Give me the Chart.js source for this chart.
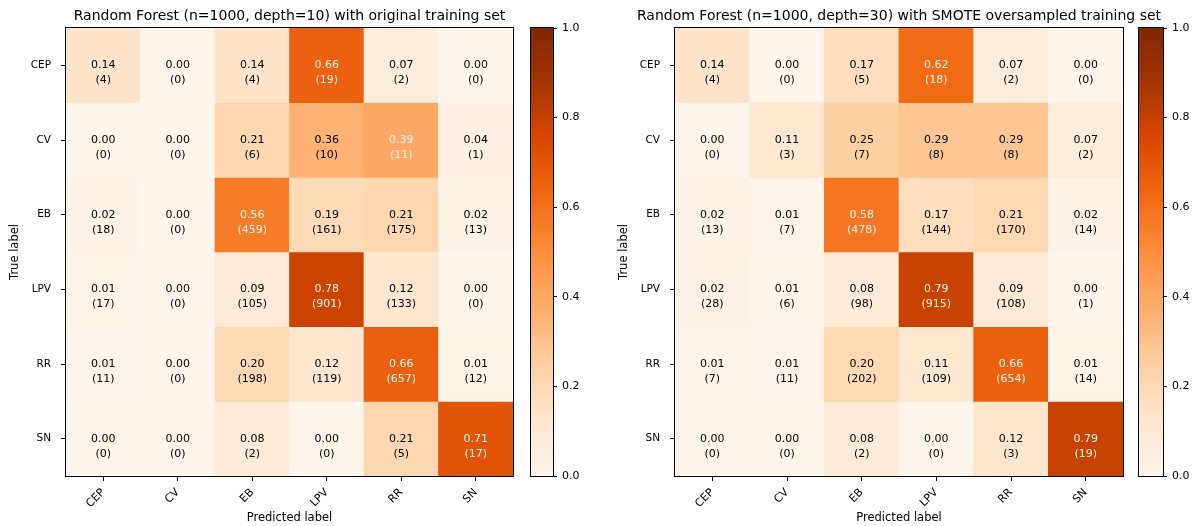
<!DOCTYPE html>
<html>
<head>
<meta charset="utf-8">
<title>Random Forest confusion matrices</title>
<script src="https://cdn.jsdelivr.net/npm/chart.js@4.4.1/dist/chart.umd.min.js"></script>
<style>
  html, body { margin: 0; padding: 0; background: #ffffff; }
  #figure { position: relative; width: 1195px; height: 526px; overflow: hidden; background: #ffffff; }
  #figure canvas { position: absolute; top: 0; }
</style>
</head>
<body>
<div id="figure">
  <canvas id="cmOriginal" width="579" height="526" style="left:0px"></canvas>
  <canvas id="cbOriginal" width="80" height="526" style="left:520px"></canvas>
  <canvas id="cmSmote" width="598" height="526" style="left:600px"></canvas>
  <canvas id="cbSmote" width="67" height="526" style="left:1128px"></canvas>
</div>
<script>
// ---- data -------------------------------------------------------------
const classNames = ['CEP', 'CV', 'EB', 'LPV', 'RR', 'SN'];

// rows = true label, columns = predicted label (sample counts)
const countsOriginal = [
  [4, 0, 4, 19, 2, 0],
  [0, 0, 6, 10, 11, 1],
  [18, 0, 459, 161, 175, 13],
  [17, 0, 105, 901, 133, 0],
  [11, 0, 198, 119, 657, 12],
  [0, 0, 2, 0, 5, 17]
];
const countsSmote = [
  [4, 0, 5, 18, 2, 0],
  [0, 3, 7, 8, 8, 2],
  [13, 7, 478, 144, 170, 14],
  [28, 6, 98, 915, 108, 1],
  [7, 11, 202, 109, 654, 14],
  [0, 0, 2, 0, 3, 19]
];

const titleOriginal = 'Random Forest (n=1000, depth=10) with original training set';
const titleSmote = 'Random Forest (n=1000, depth=30) with SMOTE oversampled training set';
const xAxisTitle = 'Predicted label';
const yAxisTitle = 'True label';
const colorbarTicks = [0.0, 0.2, 0.4, 0.6, 0.8, 1.0];

// ---- styling helpers ----------------------------------------------------
const FONT = '"DejaVu Sans", "Liberation Sans", sans-serif';
// "Oranges" sequential palette control points
const ORANGES = [
  [254, 245, 235], [254, 230, 206], [253, 208, 162], [253, 174, 107], [253, 141, 60],
  [241, 105, 19], [217, 72, 1], [166, 54, 3], [127, 39, 4]
];
const rgb = c => `rgb(${c[0]},${c[1]},${c[2]})`;

function orangesAt(v) {
  const idx = Math.min(255, Math.max(0, Math.floor(v * 256)));
  const s = (idx / 255) * (ORANGES.length - 1);
  const i = Math.min(ORANGES.length - 2, Math.floor(s));
  const f = s - i;
  const a = ORANGES[i], b = ORANGES[i + 1];
  return rgb([0, 1, 2].map(k => Math.round(a[k] + (b[k] - a[k]) * f)));
}

// two decimals, ties rounded to even
function fmt2(v) {
  const x = v * 100;
  const fl = Math.floor(x);
  let r = Math.abs(x - fl - 0.5) < 1e-9 ? (fl % 2 === 0 ? fl : fl + 1) : Math.round(x);
  return (r / 100).toFixed(2);
}

// ---- plugins ------------------------------------------------------------
const frame = {
  id: 'frame',
  afterDraw(chart) {
    const a = chart.chartArea, ctx = chart.ctx;
    ctx.save();
    ctx.strokeStyle = '#000000';
    ctx.lineWidth = 1;
    const l = Math.round(a.left) - 0.5, t = Math.round(a.top) - 0.5;
    const r = Math.round(a.right) + 0.5, b = Math.round(a.bottom) + 0.5;
    ctx.strokeRect(l, t, r - l, b - t);
    ctx.restore();
  }
};

const cellText = {
  id: 'cellText',
  afterDatasetsDraw(chart) {
    const ctx = chart.ctx;
    ctx.save();
    ctx.font = '11px ' + FONT;
    ctx.textAlign = 'center';
    ctx.textBaseline = 'middle';
    chart.data.datasets.forEach((ds, r) => {
      chart.getDatasetMeta(r).data.forEach((bar, c) => {
        const cy = (bar.y + bar.base) / 2;
        ctx.fillStyle = ds.textColors[c];
        ctx.fillText(ds.rateLabels[c], bar.x, cy);
        ctx.fillText('(' + ds.counts[c] + ')', bar.x, cy + 15);
      });
    });
    ctx.restore();
  }
};

// ---- chart builders -----------------------------------------------------
function confusionChart(canvasId, counts, title, sideWidth, yTitlePad) {
  const rates = counts.map(row => {
    const total = row.reduce((s, v) => s + v, 0);
    return row.map(v => v / total);
  });
  const flat = rates.flat();
  const thresh = (Math.max(...flat) + Math.min(...flat)) / 2;

  const datasets = rates.map((row, r) => ({
    label: classNames[r],
    data: row.map(() => [r, r + 1]),
    backgroundColor: row.map(v => orangesAt(v)),
    borderWidth: 0,
    counts: counts[r],
    rateLabels: row.map(fmt2),
    textColors: row.map(v => (v < thresh ? '#000000' : rgb(ORANGES[0])))
  }));

  return new Chart(document.getElementById(canvasId), {
    type: 'bar',
    data: { labels: classNames, datasets },
    plugins: [cellText, frame],
    options: {
      responsive: false,
      animation: false,
      events: [],
      devicePixelRatio: 1,
      layout: { padding: 0 },
      datasets: { bar: { barPercentage: 1, categoryPercentage: 1, grouped: false } },
      plugins: {
        legend: { display: false },
        tooltip: { enabled: false },
        title: {
          display: true,
          text: title,
          color: '#000000',
          font: { family: FONT, size: 14, lineHeight: 1.2, weight: 'normal' },
          padding: { top: 7.6, bottom: 3.6 }
        }
      },
      scales: {
        x: {
          type: 'category',
          offset: true,
          afterFit: s => { s.height = 50; },
          border: { display: false },
          grid: { offset: false, drawOnChartArea: false, drawTicks: true, tickLength: 5, color: '#000000' },
          ticks: {
            color: '#000000', font: { family: FONT, size: 11 },
            minRotation: 45, maxRotation: 45, padding: 5, autoSkip: false
          },
          title: {
            display: true, text: xAxisTitle, color: '#000000',
            font: { family: FONT, size: 11.5, lineHeight: 1.2 },
            padding: { top: 0, bottom: 1.2 }
          }
        },
        y: {
          type: 'linear',
          min: 0,
          max: classNames.length,
          reverse: true,
          afterFit: s => { s.width = sideWidth; },
          afterBuildTicks: s => { s.ticks = classNames.map((_, i) => ({ value: i + 0.5 })); },
          border: { display: false },
          grid: { drawOnChartArea: false, drawTicks: true, tickLength: 5, color: '#000000' },
          ticks: {
            color: '#000000', font: { family: FONT, size: 10.5 }, padding: 10,
            callback: v => classNames[Math.floor(v)]
          },
          title: {
            display: true, text: yAxisTitle, color: '#000000',
            font: { family: FONT, size: 11.5, lineHeight: 1.2 },
            padding: { top: yTitlePad, bottom: 0 }
          }
        },
        // empty spacer on the right so the title centres over the matrix
        spacer: {
          type: 'linear',
          position: 'right',
          afterFit: s => { s.width = sideWidth; },
          grid: { display: false },
          border: { display: false },
          ticks: { display: false }
        }
      }
    }
  });
}

function colorbarChart(canvasId, padLeft, axisWidth) {
  return new Chart(document.getElementById(canvasId), {
    type: 'bar',
    data: {
      labels: ['scale'],
      datasets: [{
        data: [[colorbarTicks[0], colorbarTicks[colorbarTicks.length - 1]]],
        borderWidth: 0,
        backgroundColor: c => {
          const a = c.chart.chartArea;
          if (!a) return rgb(ORANGES[0]);
          const g = c.chart.ctx.createLinearGradient(0, a.bottom, 0, a.top);
          ORANGES.forEach((col, i) => g.addColorStop(i / (ORANGES.length - 1), rgb(col)));
          return g;
        }
      }]
    },
    plugins: [frame],
    options: {
      responsive: false,
      animation: false,
      events: [],
      devicePixelRatio: 1,
      layout: { padding: { left: padLeft, right: 0, top: 28, bottom: 50 } },
      datasets: { bar: { barPercentage: 1, categoryPercentage: 1 } },
      plugins: { legend: { display: false }, tooltip: { enabled: false } },
      scales: {
        x: { display: false },
        y: {
          position: 'right',
          min: 0,
          max: 1,
          afterFit: s => { s.width = axisWidth; },
          afterBuildTicks: s => { s.ticks = colorbarTicks.map(v => ({ value: v })); },
          border: { display: false },
          grid: { drawOnChartArea: false, drawTicks: true, tickLength: 4, color: '#000000' },
          ticks: { color: '#000000', font: { family: FONT, size: 11 }, padding: 5, callback: v => v.toFixed(1) }
        }
      }
    }
  });
}

confusionChart('cmOriginal', countsOriginal, titleOriginal, 66, 8.4);
colorbarChart('cbOriginal', 11, 47);
confusionChart('cmSmote', countsSmote, titleSmote, 75, 17.4);
colorbarChart('cbSmote', 11, 32);
</script>
</body>
</html>
